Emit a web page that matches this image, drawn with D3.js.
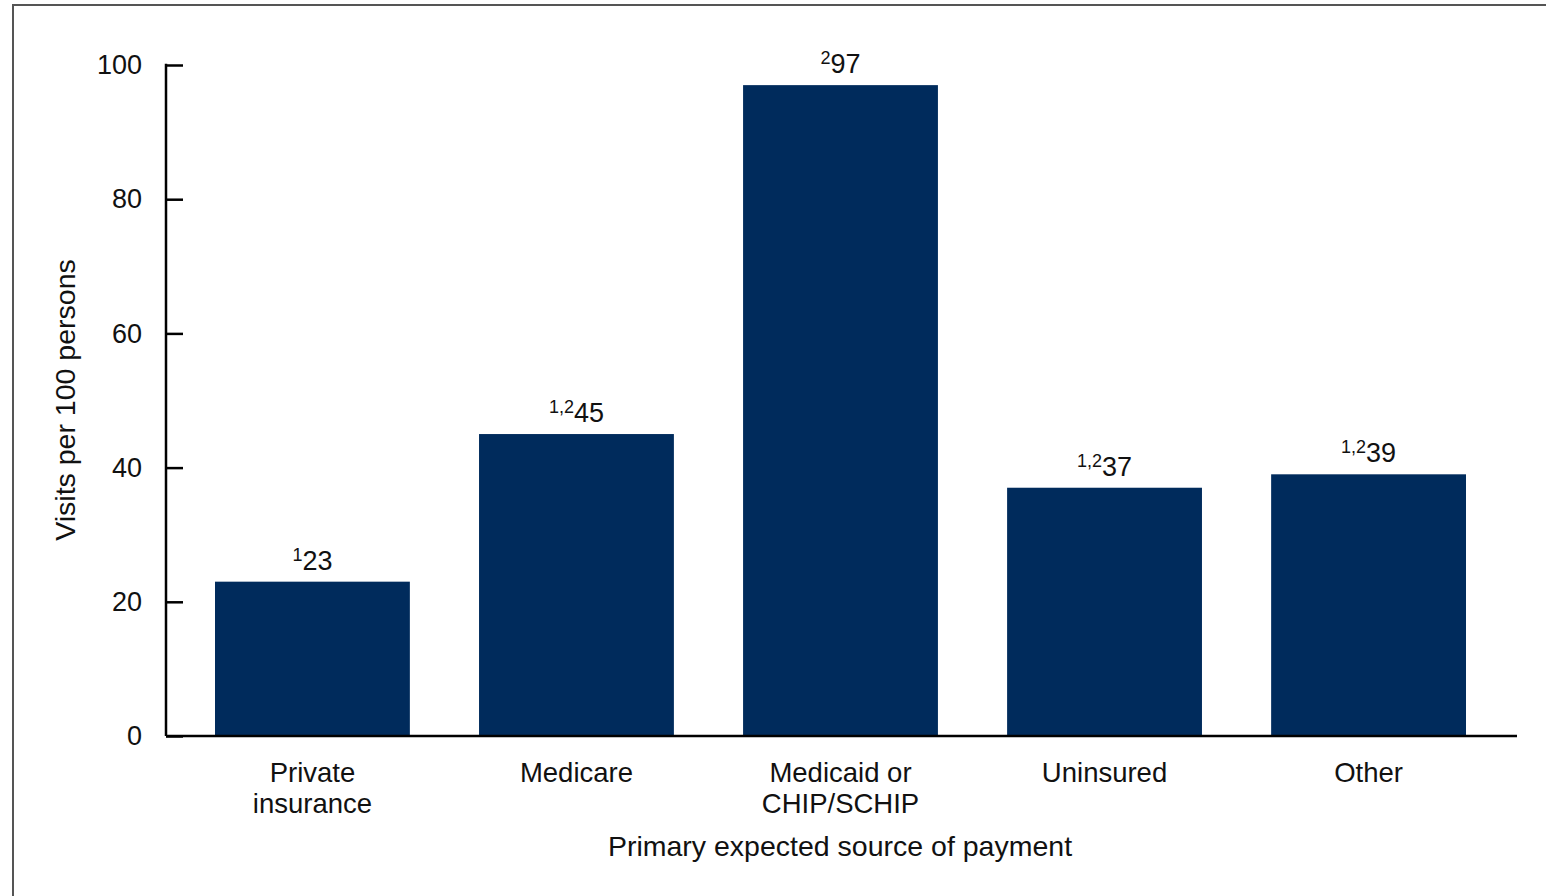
<!DOCTYPE html>
<html><head><meta charset="utf-8">
<script src="https://cdn.jsdelivr.net/npm/d3@7"></script>
<style>html,body{margin:0;padding:0;background:#fff;}svg{display:block;}</style>
</head><body>
<script>
const categories = [["Private","insurance"],["Medicare"],["Medicaid or","CHIP/SCHIP"],["Uninsured"],["Other"]];
const values = [23, 45, 97, 37, 39];
const notes = ["1", "1,2", "2", "1,2", "1,2"];
const yTicks = [0, 20, 40, 60, 80, 100];
const yTitle = "Visits per 100 persons";
const xTitle = "Primary expected source of payment";

const W = 1546, H = 896;
const FONT = "'Liberation Sans', Arial, sans-serif";
const svg = d3.select("body").append("svg").attr("width", W).attr("height", H)
  .style("font-family", FONT);

// frame
svg.append("rect").attr("x", 13).attr("y", 5).attr("width", W).attr("height", H)
  .attr("fill", "none").attr("stroke", "#555").attr("stroke-width", 2);

const y = d3.scaleLinear().domain([0, 100]).range([736, 65]);
const x = d3.scaleBand().domain(d3.range(categories.length)).range([215, 1466]).paddingInner(0.262).paddingOuter(0);

// bars
svg.selectAll("rect.bar").data(values).join("rect").attr("class", "bar")
  .attr("x", (d, i) => x(i)).attr("width", x.bandwidth())
  .attr("y", d => y(d)).attr("height", d => y(0) - y(d))
  .attr("fill", "#002B5C");

// value labels
const lab = svg.selectAll("text.val").data(values).join("text").attr("class", "val")
  .attr("x", (d, i) => x(i) + x.bandwidth() / 2).attr("y", d => y(d) - 12)
  .attr("text-anchor", "middle").attr("fill", "#111").attr("font-size", 27);
lab.append("tspan").attr("font-size", 18).attr("dy", -9).text((d, i) => notes[i]);
lab.append("tspan").attr("dy", 9).text(d => d);

// y axis
const yAxis = d3.axisLeft(y).tickValues(yTicks).tickSize(-17);
const gy = svg.append("g").attr("transform", "translate(166,0)").call(yAxis);
gy.select(".domain").remove();
gy.selectAll(".tick line").attr("stroke", "#000").attr("stroke-width", 2.5);
gy.selectAll(".tick text").attr("font-size", 27).attr("fill", "#111")
  .attr("font-family", FONT).attr("x", -24);
svg.append("line").attr("x1", 166).attr("x2", 166).attr("y1", y(100) - 1.25).attr("y2", y(0))
  .attr("stroke", "#000").attr("stroke-width", 2.5);
// x axis line
svg.append("line").attr("x1", 166).attr("x2", 1517).attr("y1", y(0)).attr("y2", y(0))
  .attr("stroke", "#000").attr("stroke-width", 2.5);

// category labels
const cl = svg.selectAll("text.cat").data(categories).join("text").attr("class", "cat")
  .attr("text-anchor", "middle").attr("font-size", 27.5).attr("fill", "#111")
  .attr("transform", (d, i) => `translate(${x(i) + x.bandwidth() / 2},782)`);
cl.selectAll("tspan").data(d => d).join("tspan").attr("x", 0).attr("dy", (d, j) => j === 0 ? 0 : 31).text(d => d);

// titles
svg.append("text").attr("transform", "translate(75,400) rotate(-90)").attr("text-anchor", "middle")
  .attr("font-size", 28.5).attr("fill", "#111").text(yTitle);
svg.append("text").attr("x", 840).attr("y", 856).attr("text-anchor", "middle")
  .attr("font-size", 28.5).attr("fill", "#111").text(xTitle);
</script>
</body></html>
